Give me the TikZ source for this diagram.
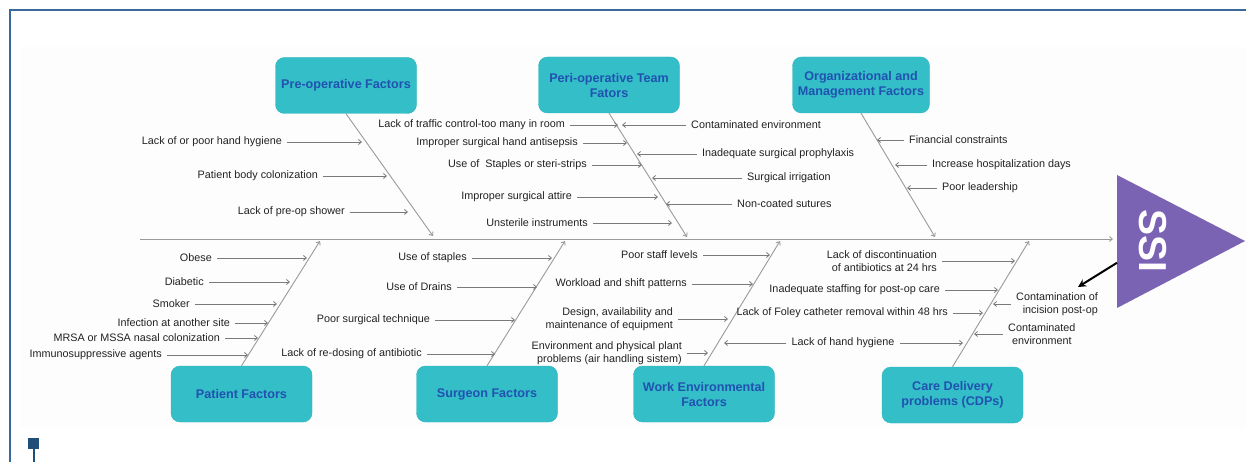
\documentclass[tikz,border=0pt]{standalone}
\usepackage{fontspec}
\setmainfont{Liberation Sans}
\usetikzlibrary{arrows.meta,calc}
\definecolor{frameblue}{HTML}{3A6A9C}
\definecolor{navy}{HTML}{1F4E79}
\definecolor{boxfill}{HTML}{33BEC8}
\definecolor{boxedge}{HTML}{2BB3BD}
\definecolor{titleblue}{HTML}{2152B0}
\definecolor{ssipurple}{HTML}{7B63B3}
\definecolor{bonegray}{HTML}{9A9A9A}
\definecolor{subgray}{HTML}{7A7A7A}
\definecolor{bgfaint}{HTML}{FDFDFD}
\definecolor{labeltext}{HTML}{222222}
\newcommand\lcause[5]{\node[lbl,anchor=east] (#1) at (#2,#3) {#5};
  \coordinate (#1e) at (#4,#3); \draw[sub] (#1.east) -- (#1e);}
\newcommand\rcause[5]{\node[lbl,anchor=west] (#1) at (#2,#3) {#5};
  \coordinate (#1e) at (#4,#3); \draw[sub] (#1.west) -- (#1e);}
\begin{document}
\begin{tikzpicture}[x=1pt,y=-1pt,
  box/.style={draw=boxedge, fill=boxfill, rounded corners=9pt, minimum width=141pt,
    minimum height=56pt, align=center, text=titleblue, inner sep=0pt,
    font=\bfseries\fontsize{12.6}{15}\selectfont},
  lbl/.style={font=\fontsize{10.8}{12.5}\selectfont, inner xsep=5pt, inner ysep=1pt, text=labeltext},
  sub/.style={draw=subgray, line width=0.8pt, -{Straight Barb[length=3pt,width=5pt]}},
  bone/.style={draw=bonegray, line width=0.9pt, -{Straight Barb[length=3pt,width=5pt]}},
  ssi/.style={text=white, font=\bfseries\fontsize{39}{39}\selectfont, rotate=-90, inner sep=0pt}]
\useasboundingbox (0,0) rectangle (1246,462);
\fill[bgfaint] (21,47) rectangle (1246,428);
\draw[frameblue, line width=2pt] (10,462) -- (10,10) -- (1246,10);
\fill[navy] (28,438) rectangle (39,449);
\draw[navy, line width=2pt] (33.5,449) -- (33.5,462);

% spine
\coordinate (sp0) at (140,239);
\coordinate (spE) at (1113,239);
\draw[bone] (sp0) -- (spE);

% head
\coordinate (t1) at (1117,175);
\coordinate (t2) at (1117,308);
\coordinate (t3) at (1245,241);
\fill[ssipurple] (t1) -- (t3) -- (t2) -- cycle;
\node[ssi] (ssi) at (1153,241) {SSI};
\coordinate (bk1) at ($(t1)!0.66!(t2)$);
\coordinate (bk2) at (1078,287);
\draw[black, line width=2pt, -{Stealth[length=8pt,width=8pt]}] (bk1) -- (bk2);

% category boxes
\node[box] (pre) at (346,85.5) {Pre-operative Factors};
\node[box] (peri) at (609,85) {Peri-operative Team\\Fators};
\node[box, minimum width=137pt] (org) at (861,85) {Organizational and\\Management Factors};
\node[box] (pat) at (241.5,394) {Patient Factors};
\node[box] (sur) at (487,394) {Surgeon Factors};
\node[box] (wrk) at (704,394) {Work Environmental\\Factors};
\node[box] (cdp) at (952.5,395) {Care Delivery\\problems (CDPs)};

% bones
\coordinate (preE) at (433,236);
\coordinate (periE) at (687,237);
\coordinate (orgE) at (935,237);
\coordinate (patE) at (320,241);
\coordinate (surE) at (565,241);
\coordinate (wrkE) at (780,241);
\coordinate (cdpE) at (1029,241);
\draw[bone] (pre.south) -- (preE);
\draw[bone] (peri.south) -- (periE);
\draw[bone] (org.south) -- (orgE);
\draw[bone] (pat.north) -- (patE);
\draw[bone] (sur.north) -- (surE);
\draw[bone] (wrk.north) -- (wrkE);
\draw[bone] (cdp.north) -- (cdpE);

% pre-operative
\lcause{a1}{287}{142}{362}{Lack of or poor hand hygiene}
\lcause{a2}{323}{176}{387}{Patient body colonization}
\lcause{a3}{350}{212}{408}{Lack of pre-op shower}

% peri-operative
\lcause{b1}{570}{125}{618}{Lack of traffic control-too many in room}
\lcause{b2}{583}{143}{627}{Improper surgical hand antisepsis}
\lcause{b3}{592}{165}{642}{Use of\ \ Staples or steri-strips}
\lcause{b4}{577}{197}{658}{Improper surgical attire}
\lcause{b5}{593}{223}{672}{Unsterile instruments}
\rcause{b6}{686}{125}{622}{Contaminated environment}
\rcause{b7}{697}{154}{637}{Inadequate surgical prophylaxis}
\rcause{b8}{742}{178}{652}{Surgical irrigation}
\rcause{b9}{732}{204}{666}{Non-coated sutures}

% organizational
\rcause{c1}{904}{140}{877}{Financial constraints}
\rcause{c2}{927}{165}{895}{Increase hospitalization days}
\rcause{c3}{937}{188}{907}{Poor leadership}

% patient
\lcause{d1}{217}{258}{307}{Obese}
\lcause{d2}{209}{282}{290}{Diabetic}
\lcause{d3}{195}{304}{277}{Smoker}
\lcause{d4}{235}{323}{268}{Infection at another site}
\lcause{d5}{225}{338}{258}{MRSA or MSSA nasal colonization}
\lcause{d6}{167}{355}{248}{Immunosuppressive agents}

% surgeon
\lcause{e1}{472}{258}{552}{Use of staples}
\lcause{e2}{457}{287}{537}{Use of Drains}
\lcause{e3}{435}{320}{515}{Poor surgical technique}
\lcause{e4}{427}{354}{495}{Lack of re-dosing of antibiotic}

% work environment
\lcause{f1}{703}{255}{770}{Poor staff levels}
\lcause{f2}{692}{284}{753}{Workload and shift patterns}
\node[lbl, anchor=east, align=right] (f3) at (678,319) {Design, availability and\\maintenance of equipment};
\coordinate (f3e) at (728,319);
\draw[sub] (f3.east) -- (f3e);
\node[lbl, anchor=east, align=right] (f4) at (687,353) {Environment and physical plant\\problems (air handling sistem)};
\coordinate (f4e) at (708,353);
\draw[sub] (f4.east) -- (f4e);

% care delivery
\node[lbl, anchor=east, align=right] (g1) at (942,261) {Lack of discontinuation\\of antibiotics at 24 hrs};
\coordinate (g1e) at (1015,261);
\draw[sub] (g1.east) -- (g1e);
\lcause{g2}{945}{290}{998}{Inadequate staffing for post-op care}
\lcause{g3}{953}{313}{983}{Lack of Foley catheter removal within 48 hrs}
\node[lbl] (g4) at (843,343) {Lack of hand hygiene};
\coordinate (g4r) at (963,343);
\coordinate (g4l) at (724,343);
\draw[sub] (g4.east) -- (g4r);
\draw[sub] (g4.west) -- (g4l);
\node[lbl, anchor=west, align=right] (g5) at (1011,304) {Contamination of\\incision post-op};
\coordinate (g5e) at (993,304);
\draw[sub] (g5.west) -- (g5e);
\node[lbl, anchor=west, align=center] (g6) at (1003,334) {Contaminated\\environment};
\coordinate (g6e) at (974,334);
\draw[sub] (g6.west) -- (g6e);
\end{tikzpicture}
\end{document}
